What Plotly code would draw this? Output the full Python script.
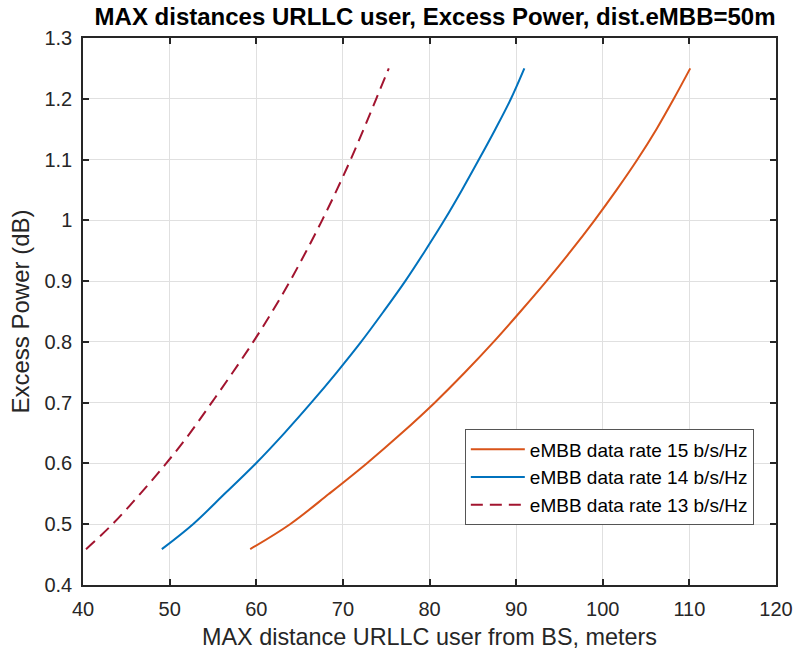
import plotly.graph_objects as go

# Excess power levels (dB) at which each curve was read
power_db = [0.459, 0.5, 0.55, 0.6, 0.65, 0.7, 0.75, 0.8, 0.85, 0.9,
            0.95, 1.0, 1.05, 1.1, 1.15, 1.2, 1.25]

# Max URLLC distances (meters) for each eMBB data rate
dist_rate15 = [59.3, 63.9, 68.4, 72.75, 76.8, 80.6, 84.1, 87.4, 90.5, 93.5,
               96.35, 99.05, 101.6, 104.0, 106.2, 108.2, 110.1]
dist_rate14 = [49.1, 52.7, 56.35, 59.95, 63.25, 66.35, 69.3, 72.1, 74.7, 77.2,
               79.5, 81.7, 83.75, 85.7, 87.6, 89.4, 90.95]
dist_rate13 = [40.35, 43.4, 46.6, 49.6, 52.35, 54.85, 57.3, 59.65, 61.85, 63.9,
               65.8, 67.6, 69.3, 70.9, 72.4, 73.85, 75.3]

series_names = ["eMBB data rate 15 b/s/Hz", "eMBB data rate 14 b/s/Hz", "eMBB data rate 13 b/s/Hz"]

x_ticks = [40, 50, 60, 70, 80, 90, 100, 110, 120]
y_ticks = [0.4, 0.5, 0.6, 0.7, 0.8, 0.9, 1.0, 1.1, 1.2, 1.3]
y_tick_text = ["0.4", "0.5", "0.6", "0.7", "0.8", "0.9", "1", "1.1", "1.2", "1.3"]

FONT = "Liberation Sans, Arial, sans-serif"
AX = "#262626"

fig = go.Figure()
fig.add_trace(go.Scatter(x=dist_rate15, y=power_db, mode="lines", name=series_names[0],
                         line=dict(color="#D95319", width=2, shape="spline", smoothing=1.0)))
fig.add_trace(go.Scatter(x=dist_rate14, y=power_db, mode="lines", name=series_names[1],
                         line=dict(color="#0072BD", width=2, shape="spline", smoothing=1.0)))
fig.add_trace(go.Scatter(x=dist_rate13, y=power_db, mode="lines", name=series_names[2],
                         line=dict(color="#A2142F", width=2, shape="spline", smoothing=1.0,
                                   dash="12px,7px")))

axis_common = dict(
    showline=True, linecolor=AX, linewidth=1.5, mirror="ticks",
    ticks="inside", ticklen=6, tickwidth=1.5, tickcolor=AX,
    showgrid=True, gridcolor="#e0e0e0", gridwidth=1, zeroline=False,
    tickfont=dict(family=FONT, size=20, color=AX),
    automargin=False,
)

fig.update_xaxes(range=[40, 120], tickvals=x_ticks, ticktext=[str(v) for v in x_ticks],
                 ticklabelstandoff=5, **axis_common)
fig.update_yaxes(range=[0.4, 1.3], tickvals=y_ticks, ticktext=y_tick_text,
                 ticklabelstandoff=5, **axis_common)

fig.add_annotation(text="MAX distance URLLC user from BS, meters", xref="paper", yref="paper",
                   x=0.5, y=-0.0959, xanchor="center", yanchor="middle", showarrow=False,
                   font=dict(family=FONT, size=23.4, color=AX))
fig.add_annotation(text="Excess Power (dB)", xref="paper", yref="paper",
                   x=-0.0909, y=0.5, xanchor="center", yanchor="middle", showarrow=False,
                   textangle=-90, font=dict(family=FONT, size=24, color=AX))

fig.update_layout(
    width=795, height=653,
    margin=dict(l=83, r=19, t=38, b=68),
    paper_bgcolor="white", plot_bgcolor="white",
    title=dict(text="<b>MAX distances URLLC user, Excess Power, dist.eMBB=50m</b>",
               x=(83 + 776) / 2 / 795 + 0.007, xanchor="center", y=1 - 17 / 653, yanchor="middle",
               font=dict(family=FONT, size=24, color="black")),
    legend=dict(x=0.968, y=0.109, xanchor="right", yanchor="bottom",
                bgcolor="white", bordercolor="#555555", borderwidth=1,
                font=dict(family=FONT, size=19, color="black"),
                itemwidth=54, tracegroupgap=0),
    showlegend=True,
)

fig.write_html("out.html", config={"displayModeBar": False},
               post_script="document.body.style.margin='0';")
